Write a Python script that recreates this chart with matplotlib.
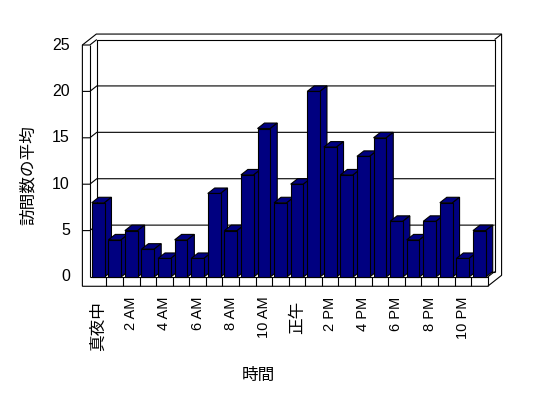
import matplotlib.pyplot as plt
from matplotlib.patches import Polygon

# average visits per hour (0..23)
values = [8, 4, 5, 3, 2, 4, 2, 9, 5, 11, 16, 8, 10, 20, 14, 11, 13, 15, 6, 4, 6, 8, 2, 5]
tick_labels = ['真夜中', '2 AM', '4 AM', '6 AM', '8 AM', '10 AM',
               '正午', '2 PM', '4 PM', '6 PM', '8 PM', '10 PM']
y_ticks = [0, 5, 10, 15, 20, 25]
x_title = '時間'
y_title = '訪問数の平均'

navy = '#000080'
lw = 0.8
dx, dy = 0.42, 0.59      # depth offset (slots, value units)
wall = 0.45              # side wall thickness
n = len(values)
top = y_ticks[-1]
fam = ['Liberation Sans', 'Noto Sans CJK JP']

fig = plt.figure(figsize=(5.48, 3.98), dpi=100)
ax = fig.add_axes([0, 0, 1, 1])
ax.set_xlim(-5.42, 27.64)
ax.set_ylim(-13.04, 29.85)
ax.axis('off')

def line(pts, z=1.5):
    xs, ys = zip(*pts)
    ax.plot(xs, ys, color='black', lw=lw, zorder=z, solid_capstyle='butt')

# box silhouette
box = [(-wall, -1), (n, -1), (n + 2*dx, -1 + 2*dy), (n + 2*dx, top + 2*dy),
       (-wall + 2*dx, top + 2*dy), (-wall, top)]
ax.add_patch(Polygon(box, closed=True, facecolor='white', edgecolor='black', lw=lw, zorder=1))

# side wall and back wall edges
line([(0, 0), (0, top)])
line([(-wall, top), (0, top), (dx, top + dy)])
line([(dx, dy), (dx, top + dy), (n + dx, top + dy), (n + dx, dy)])
line([(n + dx, top + dy), (n + 2*dx, top + 2*dy)])
line([(dx, dy), (n + dx, dy)])

# floor
line([(0, 0), (n, 0), (n, -1)])
line([(n, 0), (n + dx, dy)])
for k in range(1, n):
    line([(k, -1), (k, 0)])

# gridlines
for v in y_ticks[1:-1]:
    line([(-wall, v), (0, v), (dx, v + dy), (n + dx, v + dy)])

# bars with 3D faces
xs = [i + 0.5 for i in range(n)]
w = 0.77
bars = ax.bar(xs, values, width=w, color=navy, edgecolor='black', linewidth=lw)
for i, (b, v) in enumerate(zip(bars, values)):
    z = 3 + i * 0.01
    b.set_zorder(z)
    x0, x1 = xs[i] - w/2, xs[i] + w/2
    topf = [(x0, v), (x1, v), (x1 + dx, v + dy), (x0 + dx, v + dy)]
    side = [(x1, 0), (x1 + dx, dy), (x1 + dx, v + dy), (x1, v)]
    for pts in (topf, side):
        ax.add_patch(Polygon(pts, closed=True, facecolor=navy, edgecolor='black',
                             lw=lw, zorder=z - 0.005))

# y tick labels
for v in y_ticks:
    ax.text(-1.2, v, str(v), ha='right', va='center', family=fam, fontsize=11.5)

# x tick labels
for j, lab in enumerate(tick_labels):
    if lab.isascii():
        size, y0 = 10.5, -2.1
    else:
        size, y0 = 12, -2.6
    ax.text(2*j + 0.5, y0, lab, rotation=90, ha='center', va='top',
            family=fam, fontsize=size)

ax.text(10.15, -10.56, x_title, ha='center', va='center', family=fam, fontsize=12)
ax.text(-3.72, 11.0, y_title, ha='center', va='center', rotation=90, family=fam, fontsize=12)

fig.savefig('out.png', dpi=100)
